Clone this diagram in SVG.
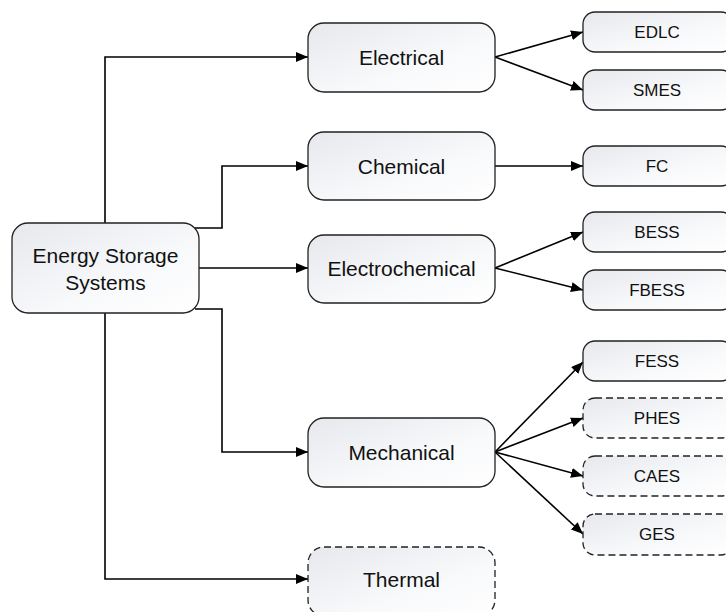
<svg xmlns="http://www.w3.org/2000/svg" width="726" height="612" viewBox="0 0 726 612">
<defs>
<linearGradient id="g" x1="0" y1="0" x2="1" y2="1">
<stop offset="0" stop-color="#e6e8ec"/>
<stop offset="0.6" stop-color="#f8f9fb"/>
<stop offset="1" stop-color="#ffffff"/>
</linearGradient>
<marker id="ah" markerWidth="12" markerHeight="10" refX="12" refY="5" orient="auto" markerUnits="userSpaceOnUse">
<path d="M0,0 L12,5 L0,10 z" fill="#000"/>
</marker>
<style>
.n{fill:url(#g);stroke:#222;stroke-width:1.3}
.d{stroke-dasharray:7,4}
.t{font-family:"Liberation Sans",Arial,sans-serif;font-size:21px;fill:#111;text-anchor:middle}
.s{font-family:"Liberation Sans",Arial,sans-serif;font-size:17px;fill:#111;text-anchor:middle}
.c{fill:none;stroke:#000;stroke-width:1.6}
</style>
</defs>
<rect width="726" height="612" fill="#fff"/>
<g id="connectors">
<path class="c" d="M105,223 L105,57 L308,57" marker-end="url(#ah)"/>
<path class="c" d="M195,228 L222,228 L222,166 L308,166" marker-end="url(#ah)"/>
<path class="c" d="M199,268 L308,268" marker-end="url(#ah)"/>
<path class="c" d="M195,309 L222,309 L222,452 L308,452" marker-end="url(#ah)"/>
<path class="c" d="M105,313 L105,579 L308,579" marker-end="url(#ah)"/>
<path class="c" d="M495,57 L583,32" marker-end="url(#ah)"/>
<path class="c" d="M495,57 L583,90" marker-end="url(#ah)"/>
<path class="c" d="M495,166 L583,166" marker-end="url(#ah)"/>
<path class="c" d="M495,268 L583,232" marker-end="url(#ah)"/>
<path class="c" d="M495,268 L583,290" marker-end="url(#ah)"/>
<path class="c" d="M495,452 L583,362" marker-end="url(#ah)"/>
<path class="c" d="M495,452 L583,418" marker-end="url(#ah)"/>
<path class="c" d="M495,452 L583,476" marker-end="url(#ah)"/>
<path class="c" d="M495,452 L583,534" marker-end="url(#ah)"/>
</g>
<g id="ess"><rect class="n" x="12" y="223" width="187" height="90" rx="16"/><text class="t" x="105.5" y="263">Energy Storage</text><text class="t" x="105.5" y="290">Systems</text></g>
<g id="electrical"><rect class="n" x="308" y="23" width="187" height="69" rx="16"/><text class="t" x="401.5" y="65">Electrical</text></g>
<g id="chemical"><rect class="n" x="308" y="132" width="187" height="68" rx="16"/><text class="t" x="401.5" y="173.5">Chemical</text></g>
<g id="electrochemical"><rect class="n" x="308" y="235" width="187" height="68" rx="16"/><text class="t" x="401.5" y="276">Electrochemical</text></g>
<g id="mechanical"><rect class="n" x="308" y="418" width="187" height="69" rx="16"/><text class="t" x="401.5" y="460">Mechanical</text></g>
<g id="thermal"><rect class="n d" x="308" y="547" width="187" height="69" rx="16"/><text class="t" x="401.5" y="587">Thermal</text></g>
<g id="edlc"><rect class="n" x="583" y="12" width="150" height="40" rx="12"/><text class="s" x="657" y="38">EDLC</text></g>
<g id="smes"><rect class="n" x="583" y="70" width="150" height="40" rx="12"/><text class="s" x="657" y="96">SMES</text></g>
<g id="fc"><rect class="n" x="583" y="146" width="150" height="40" rx="12"/><text class="s" x="657" y="172">FC</text></g>
<g id="bess"><rect class="n" x="583" y="212" width="150" height="40" rx="12"/><text class="s" x="657" y="238">BESS</text></g>
<g id="fbess"><rect class="n" x="583" y="270" width="150" height="40" rx="12"/><text class="s" x="657" y="296">FBESS</text></g>
<g id="fess"><rect class="n" x="583" y="341" width="150" height="40" rx="12"/><text class="s" x="657" y="367">FESS</text></g>
<g id="phes"><rect class="n d" x="583" y="398" width="150" height="40" rx="12"/><text class="s" x="657" y="424">PHES</text></g>
<g id="caes"><rect class="n d" x="583" y="456" width="150" height="40" rx="12"/><text class="s" x="657" y="482">CAES</text></g>
<g id="ges"><rect class="n d" x="583" y="514" width="150" height="41" rx="12"/><text class="s" x="657" y="540">GES</text></g>
</svg>
